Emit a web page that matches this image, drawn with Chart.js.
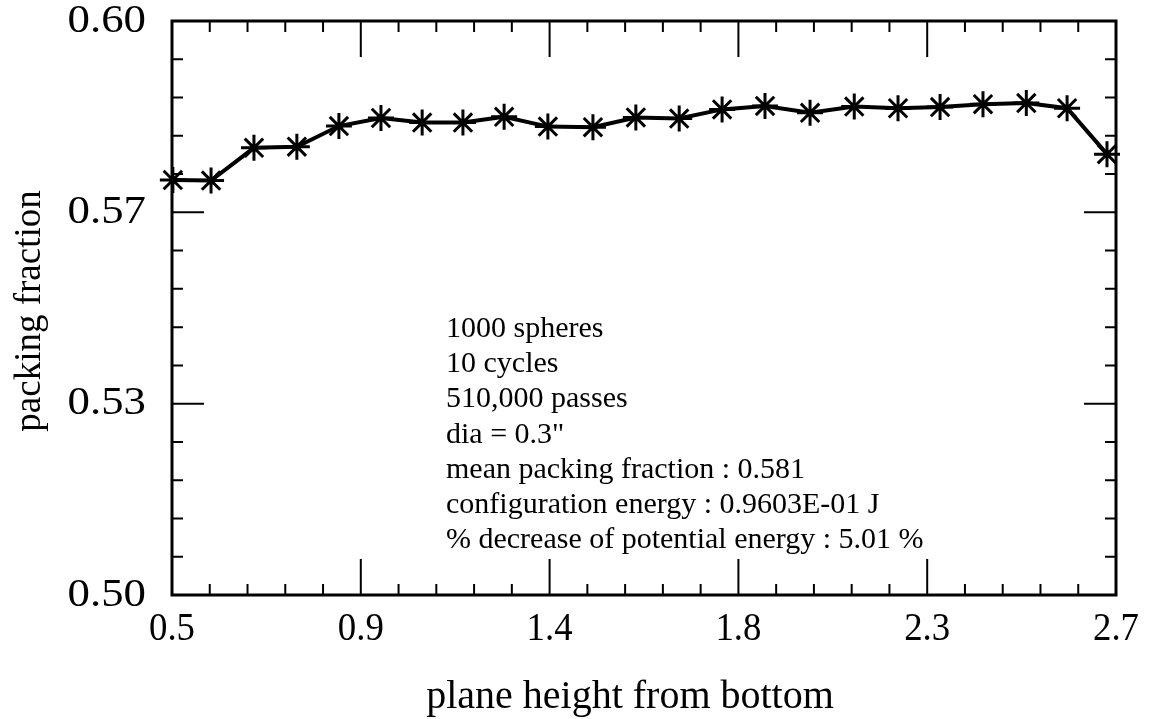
<!DOCTYPE html>
<html>
<head>
<meta charset="utf-8">
<title>Packing fraction vs plane height</title>
<script src="https://cdn.jsdelivr.net/npm/chart.js@4.4.1/dist/chart.umd.min.js"></script>
<style>
  html, body { margin: 0; padding: 0; background: #fff; }
</style>
</head>
<body>
<canvas id="pfChart" width="1153" height="719"></canvas>
<script>
// plane heights and packing fraction per plane
const heights = [0.502, 0.591, 0.691, 0.791, 0.889, 0.987, 1.083, 1.178, 1.274, 1.376, 1.481, 1.581,
                 1.682, 1.782, 1.882, 1.987, 2.090, 2.192, 2.290, 2.390, 2.491, 2.586, 2.679];
const packing = [0.5723, 0.5722, 0.5779, 0.5781, 0.5817, 0.5831, 0.5823, 0.5823, 0.5833, 0.5816, 0.5815, 0.5832,
                 0.5830, 0.5846, 0.5852, 0.5840, 0.5851, 0.5848, 0.5850, 0.5855, 0.5857, 0.5848, 0.5768];

// axis ticks (major), 5 subdivisions between majors
const xTicks = [0.5, 0.94, 1.38, 1.82, 2.26, 2.7];
const xTickLabels = ['0.5', '0.9', '1.4', '1.8', '2.3', '2.7'];
const yTicks = [0.5, 0.53333, 0.56667, 0.6];
const yTickLabels = ['0.50', '0.53', '0.57', '0.60'];
const minorDiv = 5;

const notes = [
  '1000 spheres',
  '10 cycles',
  '510,000 passes',
  'dia = 0.3"',
  'mean packing fraction : 0.581',
  'configuration energy : 0.9603E-01 J',
  '% decrease of potential energy : 5.01 %'
];

const SERIF = '"Liberation Serif", "Times New Roman", serif';

// stretched text helper
function wideText(ctx, txt, x, y, sx){
  ctx.save();
  ctx.translate(x, y);
  ctx.scale(sx, 1);
  ctx.fillText(txt, 0, 0);
  ctx.restore();
}

// frame, inward ticks, labels and the text block
const framePlugin = {
  id: 'frame',
  afterDraw(chart){
    const {ctx, chartArea: a, scales} = chart;
    const xs = scales.x, ys = scales.y;
    const MAJ = 36, MIN = 11;
    ctx.save();
    ctx.strokeStyle = '#000';
    ctx.fillStyle = '#000';

    ctx.lineWidth = 2;
    ctx.beginPath();
    // x ticks on bottom and top
    for(let i = 0; i < xTicks.length; i++){
      const px = xs.getPixelForValue(xTicks[i]);
      ctx.moveTo(px, a.bottom); ctx.lineTo(px, a.bottom - MAJ);
      ctx.moveTo(px, a.top); ctx.lineTo(px, a.top + MAJ);
      if(i < xTicks.length - 1){
        const step = (xTicks[i+1] - xTicks[i]) / minorDiv;
        for(let k = 1; k < minorDiv; k++){
          const mx = xs.getPixelForValue(xTicks[i] + k*step);
          ctx.moveTo(mx, a.bottom); ctx.lineTo(mx, a.bottom - MIN);
          ctx.moveTo(mx, a.top); ctx.lineTo(mx, a.top + MIN);
        }
      }
    }
    // y ticks on left and right
    for(let i = 0; i < yTicks.length; i++){
      const py = ys.getPixelForValue(yTicks[i]);
      ctx.moveTo(a.left, py); ctx.lineTo(a.left + MAJ - 4, py);
      ctx.moveTo(a.right, py); ctx.lineTo(a.right - MAJ + 4, py);
      if(i < yTicks.length - 1){
        const step = (yTicks[i+1] - yTicks[i]) / minorDiv;
        for(let k = 1; k < minorDiv; k++){
          const my = ys.getPixelForValue(yTicks[i] + k*step);
          ctx.moveTo(a.left, my); ctx.lineTo(a.left + MIN, my);
          ctx.moveTo(a.right, my); ctx.lineTo(a.right - MIN, my);
        }
      }
    }
    ctx.stroke();

    ctx.lineWidth = 3;
    ctx.strokeRect(a.left, a.top, a.right - a.left, a.bottom - a.top);

    // x tick labels
    ctx.font = '40px ' + SERIF;
    ctx.textAlign = 'center';
    ctx.textBaseline = 'top';
    xTicks.forEach((v, i) => wideText(ctx, xTickLabels[i], xs.getPixelForValue(v), a.bottom + 14, 0.92));

    // y tick labels, drawn a little wide
    ctx.textAlign = 'right';
    ctx.textBaseline = 'middle';
    yTicks.forEach((v, i) => wideText(ctx, yTickLabels[i], a.left - 26, ys.getPixelForValue(v), 1.12));

    // axis titles
    ctx.font = '40px ' + SERIF;
    ctx.textAlign = 'center';
    ctx.textBaseline = 'alphabetic';
    ctx.fillText('plane height from bottom', 630, 708);

    ctx.save();
    ctx.translate(40, 311);
    ctx.rotate(-Math.PI/2);
    ctx.font = '37px ' + SERIF;
    ctx.fillText('packing fraction', 0, 0);
    ctx.restore();

    // run parameters
    ctx.font = '30px ' + SERIF;
    ctx.textAlign = 'left';
    notes.forEach((t, i) => ctx.fillText(t, 446, 337 + i*35.2));

    ctx.restore();
  }
};

new Chart(document.getElementById('pfChart'), {
  type: 'line',
  data: {
    datasets: [{
      label: 'packing fraction',
      data: heights.map((h, i) => ({x: h, y: packing[i]})),
      borderColor: '#000',
      borderWidth: 4,
      pointStyle: 'star',
      pointRadius: 13,
      pointBorderWidth: 3,
      pointBorderColor: '#000',
      pointBackgroundColor: '#000',
      tension: 0,
      clip: false
    }]
  },
  options: {
    responsive: false,
    animation: false,
    layout: { padding: { left: 172, top: 21, right: 37, bottom: 124 } },
    plugins: { legend: { display: false }, tooltip: { enabled: false } },
    scales: {
      x: { type: 'linear', min: 0.5, max: 2.7, display: false },
      y: { min: 0.5, max: 0.6, display: false }
    }
  },
  plugins: [framePlugin]
});
</script>
</body>
</html>
